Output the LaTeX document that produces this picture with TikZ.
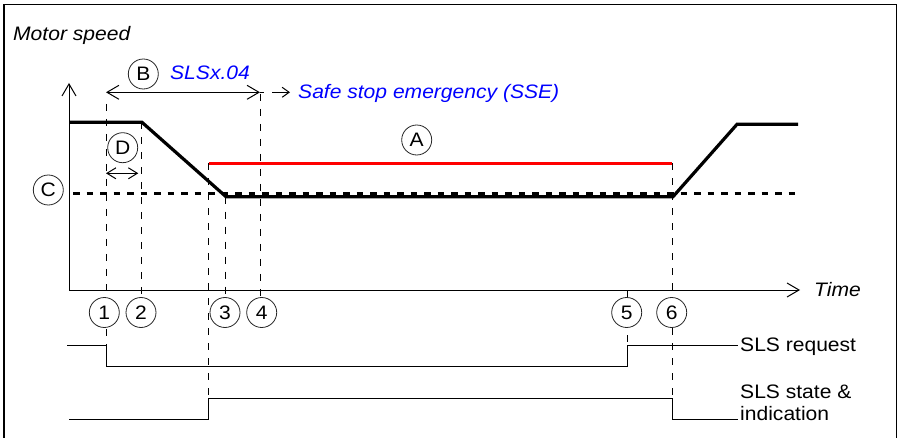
\documentclass[tikz,border=0pt]{standalone}
\usepackage{fontspec}
\setmainfont{Liberation Sans}[FakeStretch=1.08]
\usetikzlibrary{arrows.meta}
\tikzset{
  bigbarb/.tip={Straight Barb[length=12pt,width=14pt]},
  smallbarb/.tip={Straight Barb[length=9pt,width=11pt]},
  tinybarb/.tip={Straight Barb[length=7pt,width=10pt]},
}
\begin{document}
\begin{tikzpicture}[x=1pt,y=-1pt,
  sig/.style={line width=1pt},
  vdash/.style={line width=0.9pt, dash pattern=on 7pt off 8pt},
  speed/.style={line width=3.2pt, line join=miter},
  limit/.style={red, line width=2.8pt},
  cline/.style={line width=3pt, dash pattern=on 6.5pt off 7pt},
  tag/.style={circle, draw=black!85, fill=white, line width=0.8pt, minimum size=30pt, inner sep=0pt, font=\fontsize{19.5}{22}\selectfont},
  txt/.style={inner sep=0pt, font=\fontsize{19.5}{22}\selectfont},
  itxt/.style={inner sep=0pt, font=\fontsize{19.5}{22}\selectfont\itshape},
]
\useasboundingbox (0,0) rectangle (899,438);
% frame
\draw[line width=1.3pt] (4,445) -- (4,4.5) -- (896.7,4.5) -- (896.7,445);

% coordinates
\coordinate (O) at (69,290);
\coordinate (Ytop) at (69,83);
\coordinate (Tend) at (800,290);
\coordinate (s0) at (69,122.3);
\coordinate (s1) at (142,122.3);
\coordinate (s2) at (226,196.7);
\coordinate (s3) at (673,196.7);
\coordinate (s4) at (737,124.3);
\coordinate (s5) at (798,124.3);
\coordinate (c0) at (73,194);
\coordinate (c1) at (796,194);
\coordinate (r0) at (208.5,163.3);
\coordinate (r1) at (672,163.3);
\coordinate (b0) at (106,92.3);
\coordinate (b1) at (260,92.3);
\coordinate (b2) at (290,92.3);
\coordinate (d0) at (106,173.3);
\coordinate (d1) at (138.3,173.3);
\coordinate (v1t) at (106,104);
\coordinate (v1b) at (106,345);
\coordinate (v2t) at (141.7,122.3);
\coordinate (v2b) at (141.7,297);
\coordinate (v3t) at (225.7,196.7);
\coordinate (v3b) at (225.7,297);
\coordinate (v4t) at (260,94);
\coordinate (v4b) at (260,297);
\coordinate (v5t) at (627.7,290);
\coordinate (v5b) at (627.7,345);
\coordinate (vat) at (208.5,163.3);
\coordinate (vab) at (208.5,398);
\coordinate (v6t) at (672,163.3);
\coordinate (v6b) at (672,398);
% SLS request
\coordinate (q0) at (67,345);
\coordinate (q1) at (106,345);
\coordinate (q2) at (106,366);
\coordinate (q3) at (627.7,366);
\coordinate (q4) at (627.7,345);
\coordinate (q5) at (738,345);
% SLS state
\coordinate (p0) at (69,419);
\coordinate (p1) at (208.5,419);
\coordinate (p2) at (208.5,398);
\coordinate (p3) at (672,398);
\coordinate (p4) at (672,419);
\coordinate (p5) at (738,419);

% vertical dashed guide lines
\draw[vdash] (v1t) -- (v1b);
\draw[vdash] (v2t) -- (v2b);
\draw[vdash] (v3t) -- (v3b);
\draw[vdash] (v4t) -- (v4b);
\draw[vdash] (v5t) -- (v5b);
\draw[vdash] (vat) -- (vab);
\draw[vdash] (v6t) -- (v6b);

% axes
\draw[sig, -bigbarb] (O) -- (Ytop);
\draw[sig, -bigbarb] (O) -- (Tend);

% limit and speed
\draw[cline] (c0) -- (c1);
\draw[limit] (r0) -- (r1);
\draw[speed] (s0) -- (s1) -- (s2) -- (s3) -- (s4) -- (s5);

% time spans
\draw[sig, bigbarb-bigbarb] (b0) -- (b1);
\draw[sig, dash pattern=on 4pt off 8pt on 30pt off 0pt, -tinybarb] (b1) -- (b2);
\draw[sig, smallbarb-smallbarb] (d0) -- (d1);

% signals
\draw[sig] (q0) -- (q1) -- (q2) -- (q3) -- (q4) -- (q5);
\draw[sig] (p0) -- (p1) -- (p2) -- (p3) -- (p4) -- (p5);

% markers
\node[tag] (mA) at (416.7,140) {A};
\node[tag] (mB) at (143.3,74) {B};
\node[tag] (mC) at (48.3,190) {C};
\node[tag] (mD) at (122.7,147.7) {D};
\node[tag] (m1) at (104.3,312.5) {1};
\node[tag] (m2) at (141,312.5) {2};
\node[tag] (m3) at (225,312.5) {3};
\node[tag] (m4) at (261.7,312.5) {4};
\node[tag] (m5) at (626.7,312.5) {5};
\node[tag] (m6) at (671.7,312.5) {6};

% texts
\node[itxt, anchor=base west] (tMotor) at (13,40.5) {Motor speed};
\node[itxt, anchor=base west] (tTime) at (814,296) {Time};
\node[itxt, anchor=base west, text=blue] (tSLSx) at (170,80) {SLSx.04};
\node[itxt, anchor=base west, text=blue] (tSSE) at (298,99) {Safe stop emergency (SSE)};
\node[txt, anchor=base west] (tReq) at (740,351) {SLS request};
\node[txt, anchor=base west] (tState) at (740,398) {SLS state \&};
\node[txt, anchor=base west] (tInd) at (740,420) {indication};
\end{tikzpicture}
\end{document}
